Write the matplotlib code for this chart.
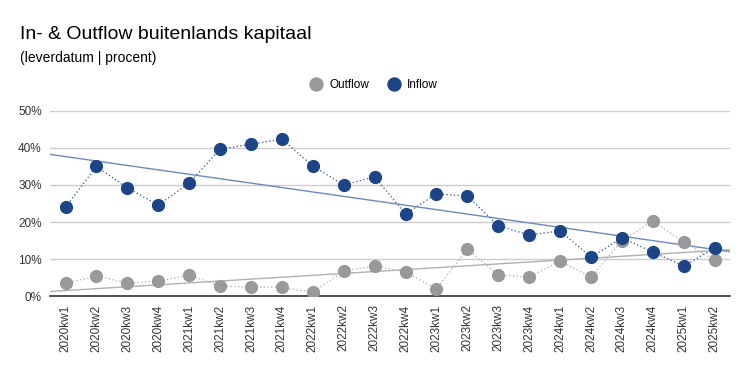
import matplotlib.pyplot as plt
import numpy as np

plt.rcParams["font.family"] = ["Liberation Sans", "DejaVu Sans"]

quarters = [
    "2020kw1", "2020kw2", "2020kw3", "2020kw4",
    "2021kw1", "2021kw2", "2021kw3", "2021kw4",
    "2022kw1", "2022kw2", "2022kw3", "2022kw4",
    "2023kw1", "2023kw2", "2023kw3", "2023kw4",
    "2024kw1", "2024kw2", "2024kw3", "2024kw4",
    "2025kw1", "2025kw2",
]
inflow = [24.0, 35.0, 29.2, 24.6, 30.5, 39.7, 41.0, 42.4, 35.1, 30.0, 32.2, 22.2,
          27.6, 27.0, 19.0, 16.5, 17.6, 10.5, 15.7, 11.9, 8.1, 13.0]
outflow = [3.5, 5.4, 3.5, 4.0, 5.7, 2.7, 2.4, 2.4, 1.0, 6.8, 8.1, 6.5,
           1.9, 12.7, 5.7, 5.1, 9.5, 5.1, 14.9, 20.3, 14.6, 9.7]

blue = "#1c4587"
gray = "#999999"

fig = plt.figure(figsize=(7.48, 3.71), dpi=100)
ax = fig.add_axes([0.067, 0.202, 0.909, 0.499])

x = np.arange(len(quarters))
xlim = (-0.5, len(quarters) - 0.5)

# trendlines (linear fit) across the full width
for vals, col in [(outflow, "#b0b0b0"), (inflow, "#6f89bb")]:
    k, b = np.polyfit(x, vals, 1)
    xs = np.array(xlim)
    ax.plot(xs, k * xs + b, color=col, lw=1.0, zorder=2)

ax.plot(x, outflow, ":", color="#b8b8b8", lw=1.0, marker="o", ms=8.5,
        mfc=gray, mec=gray, label="Outflow", zorder=3)
ax.plot(x, inflow, ":", color="#4a6aa5", lw=1.0, marker="o", ms=8.5,
        mfc=blue, mec=blue, label="Inflow", zorder=4)

ax.set_xlim(*xlim)
ax.set_ylim(0, 50)
ax.set_yticks([0, 10, 20, 30, 40, 50])
ax.set_yticklabels([f"{v}%" for v in [0, 10, 20, 30, 40, 50]], fontsize=8.5, color="#333333")
ax.set_xticks(x)
ax.set_xticklabels(quarters, rotation=90, fontsize=8.5, color="#333333")
ax.tick_params(length=0, pad=6)
ax.grid(axis="y", color="#cccccc", lw=1)
ax.set_axisbelow(True)
for s in ["top", "right", "left"]:
    ax.spines[s].set_visible(False)
ax.spines["bottom"].set_color("#333333")
ax.spines["bottom"].set_linewidth(1.2)

leg = fig.legend(handles=ax.get_lines()[2:], loc="center", bbox_to_anchor=(0.5, 0.771),
                 ncol=2, frameon=False, fontsize=8.5, handlelength=1.0,
                 handletextpad=0.6, columnspacing=1.6, markerscale=1.1)
for h in leg.legend_handles:
    h.set_linestyle("None")

fig.text(0.027, 0.895, "In- & Outflow buitenlands kapitaal", fontsize=14, va="baseline")
fig.text(0.027, 0.832, "(leverdatum | procent)", fontsize=10, va="baseline")

fig.savefig("out.png", dpi=100)
